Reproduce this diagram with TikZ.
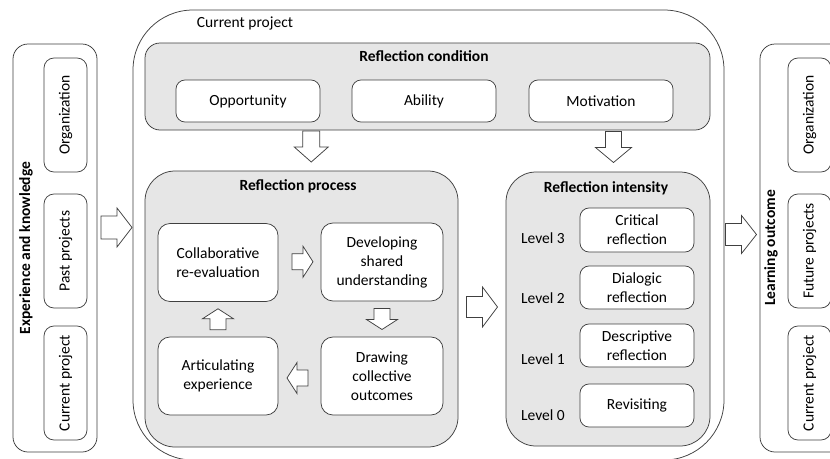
\documentclass[tikz,border=0pt]{standalone}
\usepackage{fontspec}
\setmainfont{Carlito}
\usetikzlibrary{calc}

\definecolor{edge}{HTML}{404040}
\definecolor{groupfill}{HTML}{E6E6E6}

\tikzset{
  txt/.style={font=\fontsize{15.5}{19}\selectfont},
  base/.style={txt, draw=edge, line width=0.75pt, align=center, inner sep=0pt},
  panel/.style={base, fill=white, rounded corners=15pt},
  sideitem/.style={base, fill=white, rounded corners=10pt, minimum width=43pt, minimum height=114pt},
  condgroup/.style={base, fill=groupfill, rounded corners=15pt},
  group/.style={base, fill=groupfill, rounded corners=30pt},
  conditem/.style={base, fill=white, rounded corners=9pt, minimum width=144pt, minimum height=42pt},
  procitem/.style={base, fill=white, rounded corners=12pt, minimum width=120pt, minimum height=78pt},
  levelitem/.style={base, fill=white, rounded corners=9pt, minimum width=114pt, minimum height=43pt},
  heading/.style={txt, font=\fontsize{15.5}{19}\selectfont\bfseries, inner sep=0pt},
  plain/.style={txt, inner sep=0pt},
  blk/.style={draw=edge, fill=white, line width=0.75pt, line join=miter},
}

% block arrow: #1 centre, #2 direction, #3 length, #4 shaft half-width,
% #5 head half-width, #6 head length
\newcommand{\blockarrow}[6]{%
  \draw[blk, shift={#1}, rotate=#2]
    ({-#3/2},{-#4}) -- ({#3/2-#6},{-#4}) -- ({#3/2-#6},{-#5}) -- ({#3/2},0)
    -- ({#3/2-#6},{#5}) -- ({#3/2-#6},{#4}) -- ({-#3/2},{#4}) -- cycle;}

\begin{document}
\begin{tikzpicture}[x=1pt, y=-1pt]
  \clip (0,0) rectangle (830,458);
  \fill[white] (0,0) rectangle (830,458);

  % left panel: experience and knowledge
  \node[panel, minimum width=84pt, minimum height=408pt] (exp) at (55,248) {};
  \node[heading, rotate=90] (exptitle) at (26,248) {Experience and knowledge};
  \node[sideitem] (expOrg) at (65.5,115) {\rotatebox{90}{Organization}};
  \node[sideitem] (expPast) at (65.5,251) {\rotatebox{90}{Past projects}};
  \node[sideitem] (expCur) at (65.5,383) {\rotatebox{90}{Current project}};

  % right panel: learning outcome
  \node[panel, minimum width=84pt, minimum height=408pt] (learn) at (802,248) {};
  \node[heading, rotate=90] (learntitle) at (771,248) {Learning outcome};
  \node[sideitem] (lrnOrg) at (809.5,115) {\rotatebox{90}{Organization}};
  \node[sideitem] (lrnFut) at (809.5,251) {\rotatebox{90}{Future projects}};
  \node[sideitem] (lrnCur) at (809.5,383) {\rotatebox{90}{Current project}};

  % current project frame
  \node[base, fill=white, rounded corners=60pt, minimum width=591pt, minimum height=450pt] (proj) at (428.5,235) {};
  \node[plain] (projtitle) at (245,23) {Current project};

  % reflection condition
  \node[condgroup, minimum width=565pt, minimum height=87pt] (cond) at (427.5,86.5) {};
  \node[heading] (condtitle) at (424,56) {Reflection condition};
  \node[conditem] (opp) at (248,101) {Opportunity};
  \node[conditem] (abl) at (424,101) {Ability};
  \node[conditem] (mot) at (601,101) {Motivation};

  % reflection process
  \node[group, minimum width=313pt, minimum height=276pt] (process) at (301.5,309) {};
  \node[heading] (proctitle) at (298,186) {Reflection process};
  \node[procitem] (collab) at (218,262.5) {Collaborative\\re-evaluation};
  \node[procitem, minimum width=122pt] (dev) at (382,262) {Developing\\shared\\understanding};
  \node[procitem] (artic) at (218,376) {Articulating\\experience};
  \node[procitem, minimum width=122pt] (drawc) at (382,376) {Drawing\\collective\\outcomes};

  % reflection intensity
  \node[group, minimum width=204pt, minimum height=274pt] (intensity) at (608,309) {};
  \node[heading] (inttitle) at (606,188) {Reflection intensity};
  \node[levelitem, minimum height=44pt] (crit) at (637,230) {Critical\\reflection};
  \node[levelitem] (dial) at (637,287.5) {Dialogic\\reflection};
  \node[levelitem] (desc) at (637,345.5) {Descriptive\\reflection};
  \node[levelitem] (rev) at (637,405.5) {Revisiting};
  \node[plain] (lv3) at (543,238) {Level 3};
  \node[plain] (lv2) at (543,298) {Level 2};
  \node[plain] (lv1) at (543,359) {Level 1};
  \node[plain] (lv0) at (543,415) {Level 0};

  % block arrows between the parts
  \coordinate (inL) at ($(exp.east)!0.5!(proj.west)+(1.5,-14)$);
  \coordinate (outR) at ($(proj.east)!0.5!(learn.west)+(-1,-7)$);
  \coordinate (toProc) at ($(opp.south)!0.5!(process.north)+(36.5,0)$);
  \coordinate (toInt) at ($(mot.south)!0.5!(intensity.north)+(9,0)$);
  \blockarrow{(inL)}{0}{31}{11.5}{19.5}{15}
  \blockarrow{(outR)}{0}{31}{11}{19}{15}
  \blockarrow{(toProc)}{-90}{31}{8.5}{17}{15}
  \blockarrow{(toInt)}{-90}{31}{8}{18}{15}
  \blockarrow{($(process.east)!0.5!(intensity.west)+(0,-2)$)}{0}{31}{10.5}{20}{15}

  % cycle of the reflection process
  \blockarrow{($(collab.east)!0.5!(dev.west)+(3,-0.5)$)}{0}{21}{8}{15.5}{10}
  \blockarrow{($(dev.south)!0.5!(drawc.north)$)}{-90}{21}{8}{15.5}{10}
  \blockarrow{($(drawc.west)!0.5!(artic.east)+(-2,2)$)}{180}{21}{8}{15.5}{10}
  \blockarrow{($(artic.north)!0.5!(collab.south)$)}{90}{21}{8}{15.5}{10}
\end{tikzpicture}
\end{document}
